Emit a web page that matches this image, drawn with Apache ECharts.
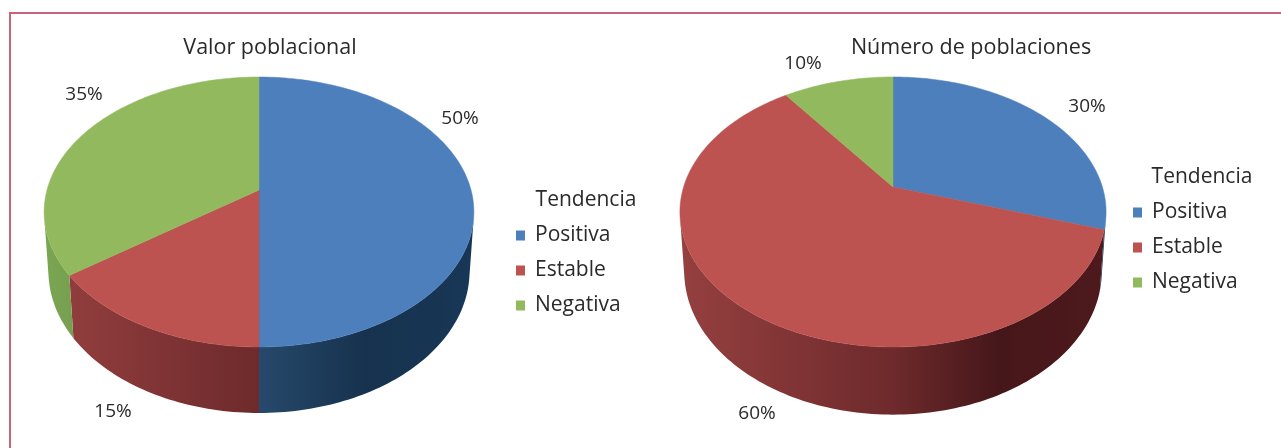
<!DOCTYPE html>
<html><head><meta charset="utf-8">
<style>html,body{margin:0;padding:0;background:#fff}#c{width:1281px;height:448px}</style>
<script src="https://cdn.jsdelivr.net/npm/echarts@6/dist/echarts.min.js"></script>
</head><body><div id="c"></div>
<script>
const categories = ['Positiva', 'Estable', 'Negativa'];
const valorPoblacional = [50, 15, 35];
const numeroPoblaciones = [30, 60, 10];
const pieTitles = ['Valor poblacional', 'Número de poblaciones'];
const legendTitle = 'Tendencia';
const colors = ['#4c7fbb', '#bc5350', '#93b95e'];
const wallLight = ['#3a6596', '#953f3f', '#7aa552'];
const wallMid = ['#27496b', '#6e2a2c', '#5a7a38'];
const wallDark = ['#16324e', '#46171a', '#3a5025'];

const FONT = '"Open Sans"';
const TEXT = '#2a2a2a';
const pies = [
  {values: valorPoblacional, cx: 259, cy: 190, A: 131.4, B: 212, k: 0.163, m: 0.02, C: 59.7,
   labels: [[460,119],[113,412],[84,95]]},
  {values: numeroPoblaciones, cx: 893, cy: 187, A: 130.4, B: 209.4, k: 0.185, m: 0.02, C: 59.7,
   labels: [[1087,107],[757,414],[803,64]]}
];
function project(p, theta, z) {
  const u = Math.sin(theta), v = Math.cos(theta), d = 1 + p.k * v + p.m * z;
  return [p.cx + p.B * u / d, p.cy + (-p.A * v + p.C * z) / d];
}
function shade(hex, f) {
  const n = parseInt(hex.slice(1), 16);
  return 'rgb(' + [n >> 16 & 255, n >> 8 & 255, n & 255].map(c => Math.round(c * f)).join(',') + ')';
}
function makeRender(catIndex) {
  return function (params, api) {
    const p = pies[params.dataIndex];
    const total = p.values.reduce((a, b) => a + b, 0);
    let before = 0;
    for (let i = 0; i < catIndex; i++) before += p.values[i];
    const value = api.value(0);
    const a0 = before / total * 2 * Math.PI, a1 = (before + value) / total * 2 * Math.PI;
    const n = Math.max(8, Math.round(value * 3));
    const top = [], bottom = [];
    for (let i = 0; i <= n; i++) {
      const t = a0 + (a1 - a0) * i / n;
      top.push(project(p, t, 0));
      bottom.push(project(p, t, 1));
    }
    // keep only the part of the side wall that faces the viewer
    let first = -1, last = -1;
    for (let i = 0; i < n; i++) {
      const ex = top[i + 1][0] - top[i][0], ey = top[i + 1][1] - top[i][1];
      const sx = bottom[i][0] - top[i][0], sy = bottom[i][1] - top[i][1];
      if (ex * sy - ey * sx < 0) { if (first < 0) first = i; last = i + 1; }
    }
    const x0 = p.cx - p.B, w = 2 * p.B;
    const base = colors[catIndex];
    const wallFill = {
      type: 'linear', global: true, x: x0, y: 0, x2: x0 + w, y2: 0,
      colorStops: [
        {offset: 0, color: wallLight[catIndex]},
        {offset: 0.5, color: wallMid[catIndex]},
        {offset: 0.75, color: wallDark[catIndex]},
        {offset: 1, color: shade(wallDark[catIndex], 1.1)}
      ]
    };
    const label = p.labels[catIndex];
    const children = [];
    if (first >= 0) {
      children.push({type: 'polygon', z2: 1,
        shape: {points: top.slice(first, last + 1).concat(bottom.slice(first, last + 1).reverse())},
        style: {fill: wallFill}});
    }
    children.push(
      {type: 'polygon', z2: 10, shape: {points: [[p.cx, p.cy]].concat(top)}, style: {fill: base, stroke: base, lineWidth: 0.5}},
      {type: 'text', z2: 20, x: label[0], y: label[1],
       style: {text: value + '%', fill: TEXT, font: '19px ' + FONT, align: 'center', verticalAlign: 'middle'}}
    );
    return {type: 'group', children};
  };
}
const chart = echarts.init(document.getElementById('c'), null, {renderer: 'canvas'});
const legendBase = {
  orient: 'vertical', icon: 'rect', itemWidth: 9, itemHeight: 10, itemGap: 14, padding: 0,
  data: categories, selectedMode: false,
  textStyle: {fontFamily: FONT, fontSize: 21, lineHeight: 20, color: TEXT, padding: [0, 0, 0, 5]}
};
const titleBase = {padding: 0, textAlign: 'center', textVerticalAlign: 'middle'};
const titleStyle = {fontFamily: FONT, fontWeight: 'normal', fontSize: 21.5, color: TEXT};
const legendTitleStyle = {fontFamily: FONT, fontWeight: 'normal', fontSize: 21, color: TEXT};
chart.setOption({
  animation: false,
  backgroundColor: '#fff',
  title: [
    Object.assign({text: pieTitles[0], left: 270, top: 48, textStyle: titleStyle}, titleBase),
    Object.assign({text: pieTitles[1], left: 971, top: 48, textStyle: titleStyle}, titleBase),
    Object.assign({text: legendTitle, left: 586, top: 200, textStyle: legendTitleStyle}, titleBase),
    Object.assign({text: legendTitle, left: 1202, top: 177, textStyle: legendTitleStyle}, titleBase)
  ],
  legend: [
    Object.assign({left: 516, top: 225}, legendBase),
    Object.assign({left: 1133, top: 202}, legendBase)
  ],
  graphic: [{type: 'rect', silent: true, z: -1, shape: {x: 10, y: 13, width: 1300, height: 460}, style: {fill: 'none', stroke: '#c9637a', lineWidth: 2}}],
  series: categories.map((name, i) => ({
    type: 'custom',
    name,
    coordinateSystem: 'none',
    itemStyle: {color: colors[i]},
    renderItem: makeRender(i),
    encode: {value: 0},
    data: [[valorPoblacional[i]], [numeroPoblaciones[i]]]
  }))
});
</script></body></html>
